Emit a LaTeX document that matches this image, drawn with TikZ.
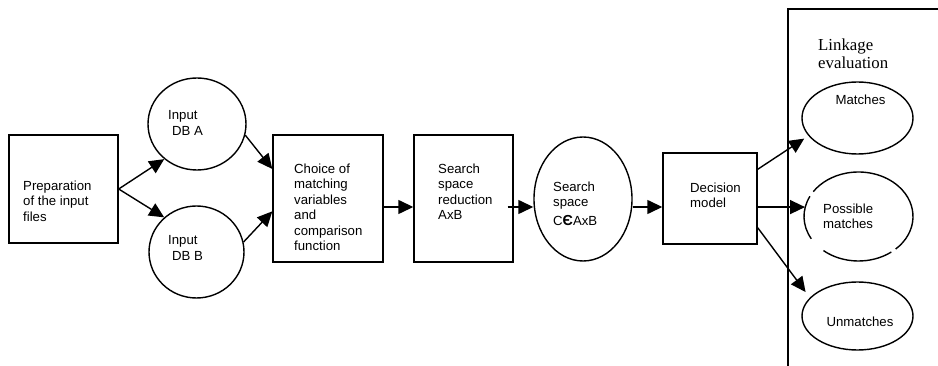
\documentclass[tikz,border=0pt]{standalone}
\usepackage{fontspec}
\setmainfont{Liberation Serif}
\newfontfamily\arialFont{Liberation Sans}
\usetikzlibrary{arrows.meta,calc,shapes.geometric}

\tikzset{
  procBox/.style={draw,line width=1.4pt,rectangle,inner sep=0pt},
  dataOval/.style={draw,line width=1.4pt,ellipse,inner sep=0pt},
  boxText/.style={font=\arialFont\fontsize{13.2}{15.5}\selectfont,align=left,anchor=north west,inner sep=0pt},
  flowArrow/.style={line width=1.4pt,-{Triangle[length=15pt,width=14pt]}}
}

\begin{document}
\begin{tikzpicture}[x=1pt,y=1pt]
\useasboundingbox (0,0) rectangle (938,-366);
% 1) input side
\node[procBox,minimum width=109,minimum height=108] (prep) at (63.5,-189) {};
\node[dataOval,minimum width=98,minimum height=92] (dbA) at (197,-124) {};
\node[dataOval,minimum width=95,minimum height=92] (dbB) at (196.5,-252) {};
\node[boxText] (prepText) at (23,-180.5) {Preparation\\of the input\\files};
\node[boxText] (dbAText) at (168,-110.5) {Input\\\hspace*{4pt}DB A};
\node[boxText] (dbBText) at (168,-235.5) {Input\\\hspace*{4pt}DB B};
% 2) matching chain
\node[procBox,minimum width=110,minimum height=127] (choice) at (328,-198.5) {};
\node[procBox,minimum width=99,minimum height=127] (ssr) at (463.5,-198.5) {};
\node[dataOval,minimum width=98,minimum height=124] (ss) at (583,-199) {};
\node[procBox,minimum width=94,minimum height=91] (dec) at (710,-198.5) {};
\node[boxText] (choiceText) at (294,-163.5) {Choice of\\matching\\variables\\and\\comparison\\function};
\node[boxText] (ssrText) at (438,-163.5) {Search\\space\\reduction\\AxB};
\node[boxText] (ssText) at (553,-181.5) {Search\\space\\[3pt]C{\fontsize{14.5}{15}\selectfont\bfseries Є}AxB};
\node[boxText] (decText) at (690,-182.5) {Decision\\model};
% 3) linkage evaluation
\draw[line width=1.5pt] (788,-366) -- (788,-9) -- (938,-9);
\node[font=\fontsize{16.8}{18}\selectfont,align=left,anchor=north west,inner sep=0pt] (linkText) at (818,-39) {Linkage\\evaluation};
\node[dataOval,minimum width=111,minimum height=72] (match) at (857.5,-118) {};
\node[ellipse,inner sep=0pt,minimum width=109,minimum height=89] (poss) at (858.5,-216.5) {};
\foreach \a/\b in {153/210,230/307,313/506}
  \draw[line width=1.4pt] ($(poss.center)+(\a:54.5pt and 44.5pt)$) arc[start angle=\a,end angle=\b,x radius=54.5pt,y radius=44.5pt];
\node[dataOval,minimum width=111,minimum height=68] (unmatch) at (857.5,-316) {};
\node[font=\arialFont\fontsize{13.2}{15.5}\selectfont,inner sep=0pt] (matchText) at (860.5,-100) {Matches};
\node[boxText] (possText) at (823,-203.5) {Possible\\matches};
\node[font=\arialFont\fontsize{13.2}{15.5}\selectfont,inner sep=0pt] (unmatchText) at (860,-322) {Unmatches};
% connectors
\coordinate (axis) at (0,-207);
\draw[flowArrow] (prep.east) -- (dbA.227);
\draw[flowArrow] (prep.east) -- (dbB.133);
\draw[flowArrow] (dbA.-13) -- ($(choice.north west)!0.27!(choice.south west)$);
\draw[flowArrow] (dbB.12) -- ($(choice.north west)!0.6!(choice.south west)$);
\draw[flowArrow] (choice.east |- axis) -- (ssr.west |- axis);
\draw[flowArrow] ($(ssr.east |- axis)+(-6,0)$) -- (ss.west |- axis);
\draw[flowArrow] (ss.east |- axis) -- (dec.west |- axis);
\draw[flowArrow,shorten >=5pt] ($(dec.north east)+(0,-17)$) -- (match.200);
\draw[flowArrow] (dec.east |- poss.170) -- (poss.170);
\draw[flowArrow,shorten >=7pt] ($(dec.south east)+(0,17)$) -- (unmatch.159);
\end{tikzpicture}
\end{document}
